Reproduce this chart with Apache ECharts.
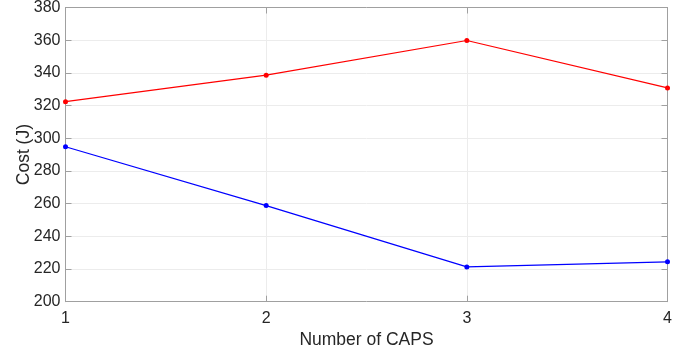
<!DOCTYPE html>
<html><head><meta charset="utf-8">
<script src="https://cdn.jsdelivr.net/npm/echarts@6/dist/echarts.min.js"></script>
<style>html,body{margin:0;padding:0;background:#fff}#c{width:694px;height:355px}</style>
</head><body><div id="c"></div>
<script>
const categories = [1, 2, 3, 4];
const redValues = [322.4, 338.6, 359.8, 330.8];
const blueValues = [294.8, 258.8, 221.3, 224.4];
const yTicks = [200, 220, 240, 260, 280, 300, 320, 340, 360, 380];

const chart = echarts.init(document.getElementById('c'), null, {renderer: 'canvas'});
const font = 'Liberation Sans, Arial, Helvetica, sans-serif';
const axisLineC = '#a0a0a0';
const gridC = '#ececec';
function mk(vals) {
  return vals.map((v, i) => [categories[i], v]);
}
chart.setOption({
  animation: false,
  grid: {left: 65.5, right: 26.5, top: 7.5, bottom: 53.3, show: false, containLabel: false, outerBoundsMode: 'none'},
  xAxis: [{
    type: 'value', min: 1, max: 4, interval: 1, position: 'bottom',
    name: 'Number of CAPS', nameLocation: 'middle', nameGap: 28,
    nameTextStyle: {fontFamily: font, fontSize: 17.5, color: '#262626'},
    axisLine: {show: true, lineStyle: {color: axisLineC, width: 1}},
    axisTick: {show: true, inside: true, length: 6, lineStyle: {color: axisLineC}},
    axisLabel: {fontFamily: font, fontSize: 16, color: '#262626', margin: 9},
    splitLine: {show: true, lineStyle: {color: gridC, width: 1}}
  }, {
    type: 'value', min: 1, max: 4, interval: 1, position: 'top',
    axisLine: {show: true, lineStyle: {color: axisLineC, width: 1}},
    axisTick: {show: true, inside: true, length: 6, lineStyle: {color: axisLineC}},
    axisLabel: {show: false}, splitLine: {show: false}
  }],
  yAxis: [{
    type: 'value', min: yTicks[0], max: yTicks[yTicks.length - 1], interval: 20, position: 'left',
    name: 'Cost (J)', nameLocation: 'middle', nameGap: 32, nameRotate: 90, nameMoveOverlap: false,
    nameTextStyle: {fontFamily: font, fontSize: 17.5, color: '#262626'},
    axisLine: {show: true, lineStyle: {color: axisLineC, width: 1}},
    axisTick: {show: true, inside: true, length: 6, lineStyle: {color: axisLineC}},
    axisLabel: {fontFamily: font, fontSize: 16, color: '#262626', margin: 5},
    splitLine: {show: true, lineStyle: {color: gridC, width: 1}}
  }, {
    type: 'value', min: yTicks[0], max: yTicks[yTicks.length - 1], interval: 20, position: 'right',
    axisLine: {show: true, lineStyle: {color: axisLineC, width: 1}},
    axisTick: {show: true, inside: true, length: 6, lineStyle: {color: axisLineC}},
    axisLabel: {show: false}, splitLine: {show: false}
  }],
  series: [{
    type: 'line', data: mk(redValues), symbol: 'circle', symbolSize: 5,
    lineStyle: {color: '#ff0000', width: 1.2}, itemStyle: {color: '#ff0000'}, z: 3
  }, {
    type: 'line', data: mk(blueValues), symbol: 'circle', symbolSize: 5,
    lineStyle: {color: '#0000ff', width: 1.2}, itemStyle: {color: '#0000ff'}, z: 3
  }]
});
</script></body></html>
